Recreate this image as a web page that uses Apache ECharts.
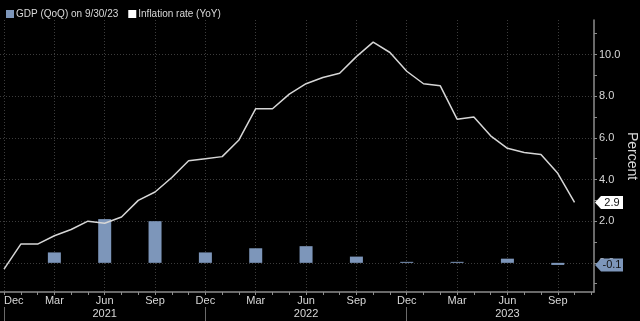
<!DOCTYPE html>
<html>
<head>
<meta charset="utf-8">
<script src="https://cdn.jsdelivr.net/npm/echarts@6/dist/echarts.min.js"></script>
<style>html,body{margin:0;padding:0;background:#000;}#c{width:640px;height:321px;}</style>
</head>
<body>
<div id="c"></div>
<script>
// ---- data ----
var inflationMonths = ['2020-12','2021-01','2021-02','2021-03','2021-04','2021-05','2021-06','2021-07','2021-08','2021-09','2021-10','2021-11','2021-12',
  '2022-01','2022-02','2022-03','2022-04','2022-05','2022-06','2022-07','2022-08','2022-09','2022-10','2022-11','2022-12',
  '2023-01','2023-02','2023-03','2023-04','2023-05','2023-06','2023-07','2023-08','2023-09','2023-10'];
var inflationValues = [-0.3,0.9,0.9,1.3,1.6,2.0,1.9,2.2,3.0,3.4,4.1,4.9,5.0,
  5.1,5.9,7.4,7.4,8.1,8.6,8.9,9.1,9.9,10.6,10.1,9.2,
  8.6,8.5,6.9,7.0,6.1,5.5,5.3,5.2,4.3,2.9];
var gdpQuarters = ['2021-03','2021-06','2021-09','2021-12','2022-03','2022-06','2022-09','2022-12','2023-03','2023-06','2023-09'];
var gdpValues = [0.5,2.1,2.0,0.5,0.7,0.8,0.3,0.0,0.0,0.2,-0.1];
var monthTickLabels = {0:'Dec',3:'Mar',6:'Jun',9:'Sep'};
var yearLabels = ['2021','2022','2023'];
var yTickValues = [0,2,4,6,8,10];
var yMinorValues = [-1,1,3,5,7,9,11];
var seriesNames = ['GDP (QoQ) on 9/30/23','Inflation rate (YoY)'];

// ---- helpers ----
function monthIndex(s){ var p=s.split('-'); return (parseInt(p[0])-2020)*12 + parseInt(p[1]) - 12; }
var xMin = -0.24, xMax = 35.16, yMin = -1.4, yMax = 11.66;
var quarterIdx=[], monthIdx=[]; for (var i=0;i<=35;i++){ monthIdx.push(i); if(i%3===0) quarterIdx.push(i); }
var yearSepIdx=[0,12,24], yearMidIdx=[6,18,30];

var lineData = inflationMonths.map(function(m,i){return [monthIndex(m), inflationValues[i]];});
var barData = gdpQuarters.map(function(m,i){return [monthIndex(m), gdpValues[i]];});
var lastInfl = inflationValues[inflationValues.length-1];
var lastGdp = gdpValues[gdpValues.length-1];

var BAR = '#7d96ba', LINE = '#d6d6d6', AX = '#8c8c8c', GRID = '#3c3c3c', TXT = '#d8d8d8';
var FONT = 'Liberation Sans, Arial, sans-serif';
var tag = 'path://M0,6.5 L6,0 L28,0 L28,13 L6,13 Z';

var baseX = {type:'value', min:xMin, max:xMax, gridIndex:0};
var baseY = {type:'value', min:yMin, max:yMax, position:'right', gridIndex:0};

var option = {
  backgroundColor:'#000',
  animation:false,
  textStyle:{fontFamily:FONT},
  legend:{left:1,top:4,itemWidth:8,itemHeight:8,itemGap:10,selectedMode:false,icon:'rect',
    textStyle:{color:TXT,fontSize:10,fontFamily:FONT,padding:[0,0,0,-3]},
    data:[{name:seriesNames[0],itemStyle:{color:BAR}},{name:seriesNames[1],itemStyle:{color:'#ffffff'}}]},
  grid:{left:0,right:46,top:20,bottom:29,containLabel:false,outerBoundsMode:'none'},
  xAxis:[
    Object.assign({},baseX,{position:'bottom',
      axisLine:{show:true,onZero:false,lineStyle:{color:AX,width:1.5}},
      axisTick:{show:true,length:3,lineStyle:{color:AX},customValues:quarterIdx},
      axisLabel:{show:true,color:TXT,fontSize:11,margin:3,customValues:quarterIdx,hideOverlap:false,
        alignMinLabel:'left',
        formatter:function(v){var k=((Math.round(v)%12)+12)%12; return monthTickLabels[k]||'';}},
      splitLine:{show:true,lineStyle:{color:GRID,type:[1,2],width:1}}}),
    Object.assign({},baseX,{position:'bottom',
      axisLine:{show:false,onZero:false},
      axisTick:{show:true,length:3,lineStyle:{color:AX},customValues:monthIdx},
      axisLabel:{show:false},splitLine:{show:false}}),
    Object.assign({},baseX,{position:'bottom',offset:15,
      axisLine:{show:false,onZero:false},
      axisTick:{show:true,length:16,lineStyle:{color:'#6a6a6a'},customValues:yearSepIdx},
      axisLabel:{show:true,color:TXT,fontSize:11,margin:1,customValues:yearMidIdx,
        formatter:function(v){return yearLabels[Math.round((v-6)/12)]||'';}},
      splitLine:{show:false}})
  ],
  yAxis:[
    Object.assign({},baseY,{
      name:'Percent',nameLocation:'middle',nameRotate:-90,nameGap:31,nameMoveOverlap:false,
      nameTextStyle:{color:TXT,fontSize:14,fontFamily:FONT},
      axisLine:{show:true,onZero:false,lineStyle:{color:AX,width:1.5}},
      axisTick:{show:true,length:3,inside:false,lineStyle:{color:AX},customValues:yTickValues},
      axisLabel:{show:true,color:TXT,fontSize:11,margin:5,customValues:yTickValues,
        formatter:function(v){return v.toFixed(1);}},
      splitLine:{show:true,lineStyle:{color:GRID,type:[1,2],width:1}}}),
    Object.assign({},baseY,{
      axisLine:{show:false,onZero:false},
      axisTick:{show:true,length:3,lineStyle:{color:AX},customValues:yMinorValues},
      axisLabel:{show:false},splitLine:{show:false}})
  ],
  series:[
    {name:seriesNames[0],type:'bar',xAxisIndex:0,yAxisIndex:0,data:barData,barWidth:13,barMinHeight:1,
      itemStyle:{color:BAR},
      markPoint:{symbol:tag,symbolSize:[28,13],symbolOffset:[15,0],silent:true,
        itemStyle:{color:BAR},
        label:{show:true,color:'#111',fontSize:11,fontFamily:FONT,offset:[3,0.5],formatter:function(){return lastGdp.toFixed(1);}},
        data:[{coord:[xMax,lastGdp]}]}},
    {name:seriesNames[1],type:'line',xAxisIndex:0,yAxisIndex:0,data:lineData,showSymbol:false,symbol:'none',
      lineStyle:{color:LINE,width:1.5},itemStyle:{color:'#ffffff'},
      markPoint:{symbol:tag,symbolSize:[28,13],symbolOffset:[15,0],silent:true,
        itemStyle:{color:'#ffffff'},
        label:{show:true,color:'#111',fontSize:11,fontFamily:FONT,offset:[3,0.5],formatter:function(){return lastInfl.toFixed(1);}},
        data:[{coord:[xMax,lastInfl]}]}}
  ]
};
var chart = echarts.init(document.getElementById('c'),null,{renderer:'canvas'});
chart.setOption(option);
</script>
</body>
</html>
